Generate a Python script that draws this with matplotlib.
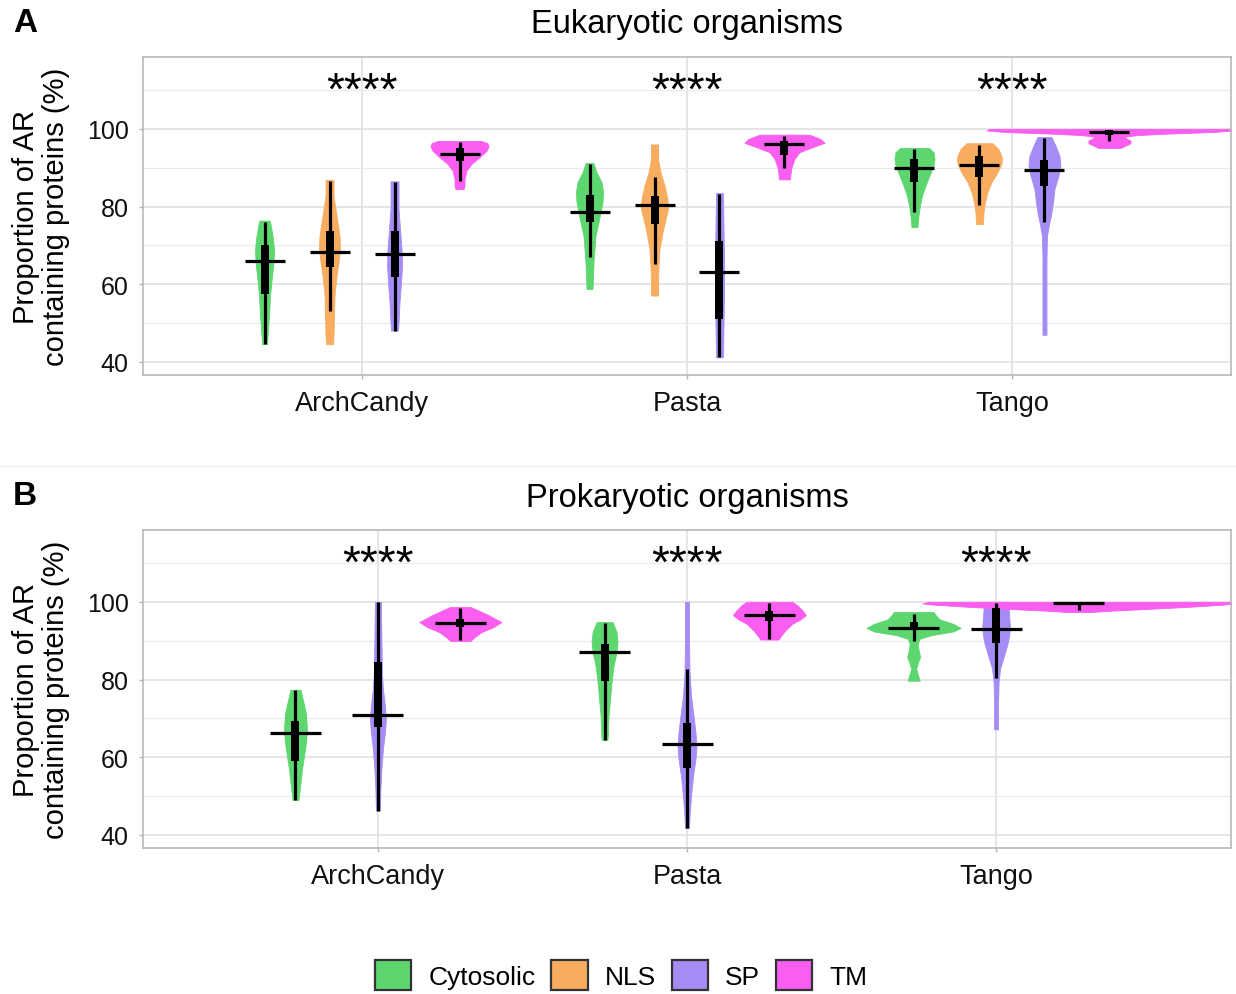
import numpy as np
import matplotlib
matplotlib.use("Agg")
import matplotlib.pyplot as plt
from matplotlib.patches import Patch, Rectangle
from matplotlib.ticker import FixedLocator

plt.rcParams['font.family'] = ['Liberation Sans', 'DejaVu Sans']

# ---------------------------------------------------------------- data
tools = ["ArchCandy", "Pasta", "Tango"]
colors = {"Cytosolic": "#5ed670", "NLS": "#f8ac60", "SP": "#a58cf5", "TM": "#fa5ef0"}
legend_order = ["Cytosolic", "NLS", "SP", "TM"]
significance = ["****", "****", "****"]

# Eukaryotic organisms: box statistics per tool (rows) and compartment (cols)
euk_groups = ["Cytosolic", "NLS", "SP", "TM"]
euk_whisk_lo = [[44.6, 53.0, 48.1, 86.7], [67.1, 65.2, 41.2, 89.9], [78.7, 80.5, 76.1, 97.0]]
euk_q1 = [[57.5, 64.5, 61.8, 91.7], [76.1, 75.5, 51.1, 93.4], [86.4, 87.7, 85.2, 98.5]]
euk_median = [[65.9, 68.4, 67.9, 93.5], [78.5, 80.4, 63.1, 96.1], [90.0, 90.8, 89.5, 99.2]]
euk_q3 = [[70.1, 73.7, 73.8, 95.0], [83.1, 82.7, 71.2, 97.0], [92.3, 92.9, 92.1, 99.6]]
euk_whisk_hi = [[76.0, 86.7, 86.3, 96.5], [91.0, 87.6, 83.3, 98.1], [94.7, 95.9, 97.6, 99.7]]

# Eukaryotic density profiles: (proportion, density)
euk_archcandy_density = {
    "Cytosolic": [(44.6, 5), (46.8, 6), (51.9, 9), (57.1, 11), (62.2, 15), (65.7, 18),
                  (69.1, 19), (72.5, 16), (75.5, 12), (76.4, 10)],
    "NLS": [(44.6, 7), (46.8, 8), (51.9, 9), (57.1, 10), (62.2, 14), (65.7, 18), (69.1, 21),
            (72.5, 20), (76.0, 16), (79.4, 12), (82.8, 8), (86.9, 8)],
    "SP": [(48.1, 7), (50.2, 8), (55.4, 10), (60.5, 13), (64.8, 15), (69.1, 14), (74.2, 11),
           (79.4, 8), (86.5, 8)],
    "TM": [(84.5, 8), (85.4, 10), (87.1, 10), (89.3, 14), (91.0, 24), (92.7, 40), (94.4, 54),
           (95.5, 58), (96.3, 56), (96.9, 44)],
}
euk_pasta_density = {
    "Cytosolic": [(58.8, 6), (62.2, 7), (65.7, 8), (69.1, 10), (72.5, 12), (76.0, 18), (78.5, 22),
                  (81.1, 26), (83.7, 27), (86.3, 24), (88.8, 14), (91.2, 8)],
    "NLS": [(57.1, 7), (60.5, 7), (64.8, 8), (69.1, 10), (73.4, 16), (76.8, 22), (79.4, 27),
            (82.0, 26), (85.4, 20), (88.8, 12), (92.3, 7), (96.0, 7)],
    "SP": [(41.2, 7), (49.4, 8), (57.9, 9), (66.5, 9), (75.1, 8), (83.5, 7)],
    "TM": [(87.0, 11), (88.4, 12), (90.1, 14), (92.3, 20), (94.0, 30), (95.3, 56), (96.4, 80),
           (97.4, 72), (98.5, 50)],
}
euk_tango_density = {
    "Cytosolic": [(74.7, 6), (77.7, 8), (80.3, 11), (82.8, 15), (85.4, 22), (88.0, 30), (90.6, 38),
                  (92.3, 40), (94.0, 38), (95.1, 29)],
    "NLS": [(75.5, 7), (78.5, 8), (81.1, 11), (83.7, 16), (86.3, 24), (88.8, 36), (91.0, 44),
            (92.7, 45), (94.8, 38), (96.3, 26)],
    "SP": [(47.0, 4), (57.9, 4), (66.5, 4), (72.5, 5), (76.0, 10), (78.5, 14), (81.1, 17),
           (84.5, 20), (88.0, 28), (90.6, 32), (93.1, 30), (95.7, 22), (97.9, 14)],
    "TM": [(95.1, 22), (95.7, 32), (96.3, 42), (97.0, 42), (97.5, 34), (98.0, 30), (98.4, 56),
           (98.8, 120), (99.2, 210), (99.6, 246), (100.0, 240)],
}

# Prokaryotic organisms
prok_groups = ["Cytosolic", "SP", "TM"]
prok_whisk_lo = [[49.0, 46.3, 90.3], [64.5, 41.8, 90.5], [89.9, 80.3, 97.8]]
prok_q1 = [[59.0, 67.9, 93.5], [79.7, 57.3, 95.0], [92.7, 89.5, 99.4]]
prok_median = [[66.2, 70.9, 94.6], [87.2, 63.4, 96.6], [93.4, 93.1, 99.8]]
prok_q3 = [[69.4, 84.5, 95.5], [89.2, 68.8, 97.6], [94.8, 98.3, 100.0]]
prok_whisk_hi = [[77.2, 100.0, 98.3], [94.6, 82.8, 99.8], [97.0, 99.8, 100.0]]

prok_archcandy_density = {
    "Cytosolic": [(49.0, 6), (53.4, 10), (56.9, 13), (60.3, 17), (63.8, 21), (67.2, 23),
                  (71.2, 21), (74.1, 16), (77.4, 10)],
    "SP": [(46.3, 4), (51.7, 5), (56.9, 7), (62.1, 10), (66.4, 14), (69.8, 16), (73.3, 14),
           (77.6, 10), (81.9, 8), (90.5, 7), (100.0, 6)],
    "TM": [(89.9, 20), (90.9, 28), (92.2, 42), (93.5, 66), (94.8, 82), (96.6, 56), (97.8, 36),
           (98.7, 20)],
}
prok_pasta_density = {
    "Cytosolic": [(64.5, 6), (67.2, 7), (70.7, 8), (75.0, 11), (79.3, 14), (83.6, 18), (87.1, 24),
                  (89.7, 26), (92.2, 24), (94.8, 16)],
    "SP": [(41.8, 4), (44.8, 5), (50.0, 8), (55.2, 12), (59.5, 17), (62.9, 19), (66.4, 17),
           (70.7, 13), (75.9, 8), (81.9, 5), (90.5, 4), (100.0, 4)],
    "TM": [(90.3, 18), (91.4, 24), (92.7, 32), (94.4, 46), (95.5, 62), (96.6, 73), (97.8, 66),
           (99.1, 56), (100.0, 46)],
}
prok_tango_density = {
    "Cytosolic": [(79.7, 12), (81.0, 9), (82.8, 5), (84.5, 9), (85.8, 13), (87.5, 10), (89.2, 8),
                  (90.5, 12), (91.4, 34), (92.4, 80), (93.3, 94), (94.3, 80), (95.5, 52),
                  (96.6, 44), (97.4, 40)],
    "SP": [(67.2, 4), (74.1, 4), (79.3, 5), (82.8, 8), (86.2, 16), (89.7, 24), (93.1, 28),
           (96.6, 26), (100.0, 24)],
    "TM": [(97.4, 24), (97.7, 60), (98.1, 124), (98.7, 216), (99.3, 290), (99.6, 312),
           (100.0, 300)],
}

# ---------------------------------------------------------------- layout
W, H = 1236, 995
fig = plt.figure(figsize=(W / 100, H / 100), dpi=100)


def fx(px):
    return px / W


def fy(py):
    return 1 - py / H


AX_L, AX_R = 143, 1231
GRID_MAJOR = "#dedede"
GRID_MINOR = "#ebebeb"
BORDER = "#b3b3b3"


def make_axes(top, bottom, xlim):
    ax = fig.add_axes([fx(AX_L), fy(bottom), fx(AX_R - AX_L), (bottom - top) / H])
    ax.set_xlim(*xlim)
    ax.set_ylim(36.65, 118.5)
    ax.set_yticks([40, 60, 80, 100])
    ax.yaxis.set_minor_locator(FixedLocator([50, 70, 90, 110]))
    ax.set_xticks([1, 2, 3])
    ax.set_xticklabels(tools)
    ax.grid(True, which="major", color=GRID_MAJOR, lw=1.1, zorder=0)
    ax.grid(True, which="minor", axis="y", color=GRID_MINOR, lw=0.8, zorder=0)
    ax.set_axisbelow(True)
    for s in ax.spines.values():
        s.set_color(BORDER)
        s.set_linewidth(1.1)
    ax.tick_params(axis="both", which="major", color=BORDER, length=3.2, width=1.0)
    ax.tick_params(axis="y", which="minor", length=0)
    ax.tick_params(axis="y", labelsize=18, pad=7, labelcolor="#111111")
    ax.tick_params(axis="x", labelsize=19.5, pad=7.5, labelcolor="#111111")
    return ax


def draw_panel(ax, groups, densities, lo, q1, med, q3, hi, dodge, median_px):
    x0, x1 = ax.get_xlim()
    ppu = (AX_R - AX_L) / (x1 - x0)          # pixels per x unit
    n = len(groups)
    for t, dens in enumerate(densities):
        for j, g in enumerate(groups):
            pos = t + 1 + (j - (n - 1) / 2) * dodge
            prof = np.array(dens[g], dtype=float)
            ys, half = prof[:, 0], prof[:, 1] / 2 / ppu
            ax.fill_betweenx(ys, pos - half, pos + half, color=colors[g],
                             lw=0.6, edgecolor=colors[g], joinstyle="round", zorder=2)
            # whisker line
            ax.plot([pos, pos], [lo[t][j], hi[t][j]], color="black", lw=2.3,
                    solid_capstyle="butt", zorder=3)
            # interquartile box
            bw = 8 / ppu
            ax.add_patch(Rectangle((pos - bw / 2, q1[t][j]), bw, q3[t][j] - q1[t][j],
                                   facecolor="black", edgecolor="none", zorder=4))
            # median bar
            mw = median_px / ppu
            ax.plot([pos - mw / 2, pos + mw / 2], [med[t][j], med[t][j]], color="black",
                    lw=2.3, solid_capstyle="butt", zorder=5)
    for t, lab in enumerate(significance):
        ax.text(t + 1, 106.4, lab, ha="center", va="baseline", fontsize=33, zorder=6)


# Panel A
axA = make_axes(58, 376, (0.326, 3.674))
draw_panel(axA, euk_groups, [euk_archcandy_density, euk_pasta_density, euk_tango_density],
           euk_whisk_lo, euk_q1, euk_median, euk_q3, euk_whisk_hi, 0.2, 40)

# Panel B
axB = make_axes(531, 849, (0.24, 3.76))
draw_panel(axB, prok_groups, [prok_archcandy_density, prok_pasta_density, prok_tango_density],
           prok_whisk_lo, prok_q1, prok_median, prok_q3, prok_whisk_hi, 0.8 / 3, 51)

# titles, panel letters, axis labels
for ty, title, letter in [(24, "Eukaryotic organisms", "A"), (497, "Prokaryotic organisms", "B")]:
    fig.text(fx(687), fy(ty + 1), title, ha="center", va="center", fontsize=23.5)
    fig.text(fx(25), fy(ty), letter, ha="center", va="center", fontsize=24, fontweight="bold")

for cy in [217, 690]:
    fig.text(fx(41), fy(cy), "Proportion of AR\ncontaining proteins (%)", rotation=90,
             ha="center", va="center", fontsize=21, linespacing=1.05, multialignment="center")

# faint separator between the two panels
fig.add_artist(plt.Line2D([0, 1], [fy(467), fy(467)], color="#f2f2f2", lw=1.0))

# legend
handles = [Patch(facecolor=colors[g], edgecolor="#333333", linewidth=1.6, label=g)
           for g in legend_order]
fig.legend(handles=handles, loc="center", bbox_to_anchor=(fx(621), fy(976)), ncol=4,
           frameon=False, fontsize=19, handlelength=1.38, handleheight=1.38,
           handletextpad=0.64, columnspacing=0.6, borderpad=0.0)

fig.savefig("out.png", dpi=100)
